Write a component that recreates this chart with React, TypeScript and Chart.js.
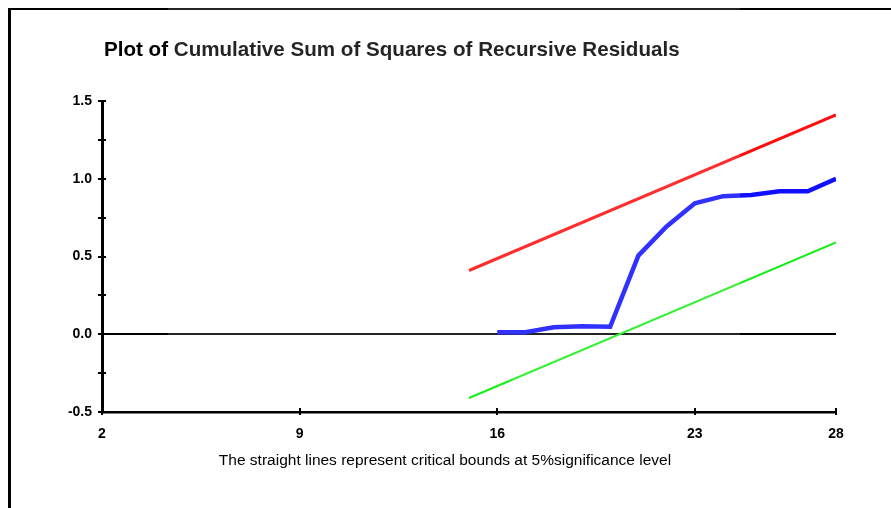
import { useEffect, useRef } from 'react';
import { Chart, registerables } from 'chart.js';

Chart.register(...registerables);

const titleText = 'Plot of Cumulative Sum of Squares of Recursive Residuals';
const noteText = 'The straight lines represent critical bounds at 5%significance level';

const xTicks = [2, 9, 16, 23, 28];
const yMin = -0.5;
const yMax = 1.5;
const yStep = 0.25;

const cusumX = [16, 17, 18, 19, 20, 21, 22, 23, 24, 25, 26, 27, 28];
const cusumSq = [0.013, 0.013, 0.045, 0.051, 0.048, 0.506, 0.693, 0.842, 0.888, 0.896, 0.92, 0.92, 1.0];

const boundX = [15, 28];
const upperBound = [0.41, 1.41];
const lowerBound = [-0.41, 0.59];

const FONT = "'Liberation Sans', Arial, Helvetica, sans-serif";

export default function App() {
  const ref = useRef<HTMLCanvasElement>(null);

  useEffect(() => {
    const canvas = ref.current;
    if (!canvas) return;

    const tickMarks = {
      id: 'tickMarks',
      afterDraw(chart: any) {
        const ctx = chart.ctx;
        const xs = chart.scales.x;
        const ys = chart.scales.y;
        const a = chart.chartArea;
        ctx.save();
        ctx.strokeStyle = '#000';
        ctx.lineWidth = 2;
        ys.ticks.forEach((t: any) => {
          const py = Math.round(ys.getPixelForValue(t.value));
          ctx.beginPath();
          ctx.moveTo(a.left - 4, py);
          ctx.lineTo(a.left + 4, py);
          ctx.stroke();
        });
        xs.ticks.forEach((t: any) => {
          const px = Math.round(xs.getPixelForValue(t.value));
          ctx.beginPath();
          ctx.moveTo(px, a.bottom - 4);
          ctx.lineTo(px, a.bottom + 3);
          ctx.stroke();
        });
        ctx.restore();
      },
    };

    const texts = {
      id: 'texts',
      afterDraw(chart: any) {
        const ctx = chart.ctx;
        const a = chart.chartArea;
        ctx.save();
        ctx.fillStyle = '#000';
        ctx.textBaseline = 'middle';
        ctx.textAlign = 'left';
        ctx.font = `bold 20.6px ${FONT}`;
        ctx.fillText(titleText, a.left + 2, 50);
        ctx.font = `15.5px ${FONT}`;
        ctx.textAlign = 'center';
        ctx.fillText(noteText, 445, 461);
        ctx.restore();
      },
    };

    const pts = (xs: number[], ys: number[]) => xs.map((x, i) => ({ x, y: ys[i] }));

    const chart = new Chart(canvas, {
      type: 'scatter',
      data: {
        datasets: [
          {
            label: 'Upper bound',
            data: pts(boundX, upperBound),
            showLine: true,
            borderColor: '#ff0d0d',
            backgroundColor: '#ff0d0d',
            borderWidth: 3,
            pointRadius: 0,
          },
          {
            label: 'Lower bound',
            data: pts(boundX, lowerBound),
            showLine: true,
            borderColor: '#14ee14',
            backgroundColor: '#14ee14',
            borderWidth: 2,
            pointRadius: 0,
          },
          {
            label: 'CUSUM of squares',
            data: pts(cusumX, cusumSq),
            showLine: true,
            borderColor: '#1010ff',
            backgroundColor: '#1010ff',
            borderWidth: 4.5,
            pointRadius: 0,
          },
        ],
      },
      options: {
        responsive: false,
        animation: false,
        layout: { padding: { top: 101, right: 55, bottom: 56, left: 0 } },
        plugins: {
          legend: { display: false },
          tooltip: { enabled: false },
          title: { display: false },
        },
        scales: {
          x: {
            type: 'linear',
            min: xTicks[0],
            max: xTicks[xTicks.length - 1],
            afterBuildTicks: (s: any) => {
              s.ticks = xTicks.map((v) => ({ value: v }));
            },
            afterFit: (s: any) => {
              s.height = 40;
            },
            grid: { display: true, drawOnChartArea: false, drawTicks: false },
            border: { display: true, color: '#000', width: 2.5 },
            ticks: {
              color: '#000',
              font: { family: FONT, size: 14, weight: 'bold' },
              padding: 14,
              maxRotation: 0,
              autoSkip: false,
            },
          },
          y: {
            type: 'linear',
            min: yMin,
            max: yMax,
            afterFit: (s: any) => {
              s.width = 102;
            },
            grid: {
              drawTicks: false,
              lineWidth: 2,
              color: (c: any) => (c.tick && Math.abs(c.tick.value) < 1e-9 ? '#000' : 'rgba(0,0,0,0)'),
            },
            border: { display: true, color: '#000', width: 3 },
            ticks: {
              stepSize: yStep,
              color: '#000',
              font: { family: FONT, size: 14, weight: 'bold' },
              padding: 10,
              callback: (v: any) => {
                const n = Number(v);
                return Math.abs(n * 2 - Math.round(n * 2)) < 1e-9 ? n.toFixed(1) : '';
              },
            },
          },
        },
      },
      plugins: [tickMarks, texts],
    } as any);

    return () => chart.destroy();
  }, []);

  return (
    <div>
      <div
        style={{
          position: 'fixed',
          left: 8,
          top: 8,
          width: 883,
          height: 500,
          borderTop: '2px solid #000',
          borderLeft: '3px solid #000',
          boxSizing: 'border-box',
          background: '#fff',
        }}
      />
      <canvas
        ref={ref}
        width={891}
        height={508}
        style={{ position: 'fixed', left: 0, top: 0, display: 'block' }}
      />
      <div
        style={{
          position: 'fixed',
          left: 168,
          top: 0,
          width: 572,
          height: 380,
          background: 'rgba(255,255,255,0.14)',
          pointerEvents: 'none',
        }}
      />
    </div>
  );
}
